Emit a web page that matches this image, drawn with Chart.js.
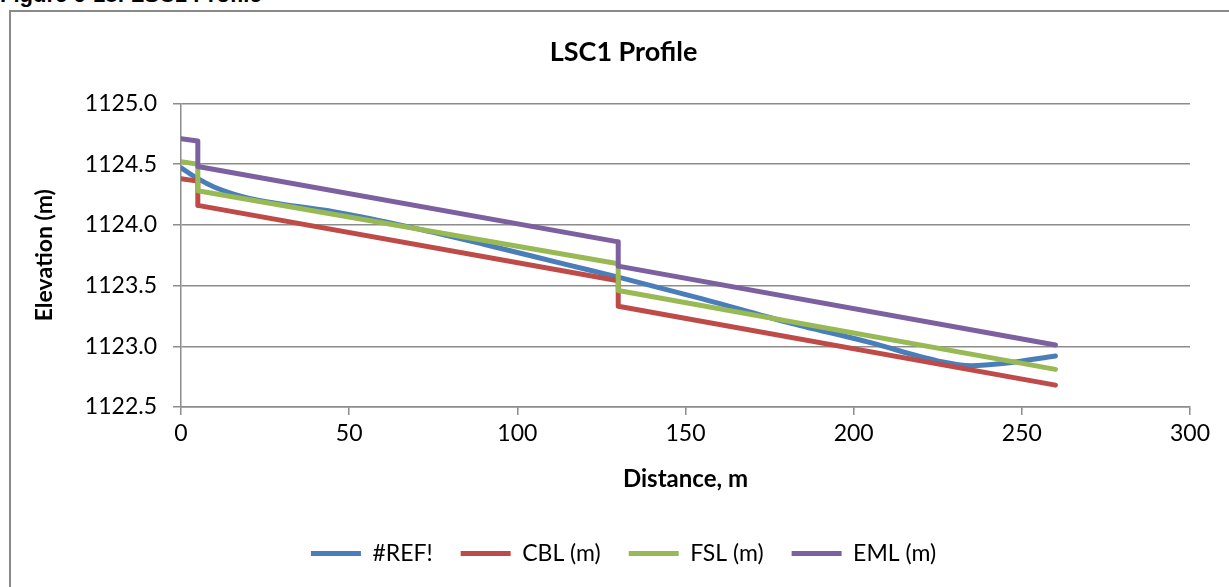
<!DOCTYPE html>
<html>
<head>
<meta charset="utf-8">
<script src="https://cdn.jsdelivr.net/npm/chart.js@4"></script>
<style>
  html, body { margin: 0; padding: 0; background: #fff; overflow: hidden; }
  #caption {
    position: absolute; left: 0; top: -16px;
    font: bold 22px "Liberation Sans", Arial, sans-serif; line-height: 22px;
    color: #000; white-space: nowrap;
  }
  #frame {
    position: absolute; left: 9px; top: 10px; width: 1260px; height: 620px;
    border: 2px solid #8a8a8a;
  }
  #wrap { position: absolute; left: 0; top: 0; width: 1229px; height: 587px; }
</style>
</head>
<body>
<div id="caption">Figure 6-18: LSC1 Profile</div>
<div id="frame"></div>
<div id="wrap"><canvas id="chart"></canvas></div>
<script>
// data
const refX = [0, 5, 10, 20, 30, 45, 65, 90, 115, 130, 155, 180, 205, 225, 235, 245, 260];
const refY = [1124.47, 1124.38, 1124.31, 1124.22, 1124.17, 1124.11, 1124.00, 1123.84, 1123.67, 1123.57, 1123.39, 1123.20, 1123.03, 1122.88, 1122.84, 1122.86, 1122.92];

const stepX = [0, 5, 5, 130, 130, 260];
const cblY = [1124.38, 1124.36, 1124.16, 1123.54, 1123.33, 1122.68];
const fslY = [1124.52, 1124.50, 1124.28, 1123.68, 1123.46, 1122.81];
const emlY = [1124.71, 1124.69, 1124.48, 1123.86, 1123.66, 1123.01];

const seriesNames = ['#REF!', 'CBL (m)', 'FSL (m)', 'EML (m)'];
const seriesColors = ['#4a7ebb', '#be4b48', '#98b954', '#7d60a0'];

const xTicks = [0, 50, 100, 150, 200, 250, 300];
const yMin = 1122.5, yMax = 1125.0, yStep = 0.5;

function pts(xs, ys) {
  return xs.map((x, i) => ({ x: x, y: ys[i] }));
}

const FONT = 'Lato, "Open Sans", sans-serif';
const GRID = '#8c8c8c';

const allY = [refY, cblY, fslY, emlY];
const allX = [refX, stepX, stepX, stepX];

const datasets = seriesNames.map((name, i) => ({
  label: name,
  data: pts(allX[i], allY[i]),
  borderColor: seriesColors[i],
  backgroundColor: seriesColors[i],
  borderWidth: 5,
  borderCapStyle: 'round',
  borderJoinStyle: 'round',
  pointRadius: 0,
  tension: i === 0 ? 0.4 : 0,
  cubicInterpolationMode: i === 0 ? 'monotone' : 'default',
  order: 4 - i   // later series drawn on top, as in the original
}));

new Chart(document.getElementById('chart'), {
  type: 'line',
  data: { datasets: datasets },
  options: {
    responsive: true,
    maintainAspectRatio: false,
    animation: false,
    layout: { padding: { left: 18, right: 0, top: 0, bottom: 12 } },
    plugins: {
      title: {
        display: true,
        text: 'LSC1 Profile',
        color: '#000',
        font: { family: FONT, size: 27, weight: 'bold' },
        padding: { top: 36, bottom: 35 }
      },
      legend: {
        position: 'bottom',
        labels: {
          usePointStyle: true,
          pointStyleWidth: 50,
          pointStyle: 'line',
          padding: 28,
          color: '#000',
          font: { family: FONT, size: 23 },
          sort: (a, b) => a.datasetIndex - b.datasetIndex
        }
      },
      tooltip: { enabled: false }
    },
    scales: {
      x: {
        type: 'linear',
        min: 0, max: 300,
        afterBuildTicks: s => { s.ticks = xTicks.map(v => ({ value: v })); },
        afterFit: s => { s.height = 107; s.paddingRight = 39; },
        grid: { drawOnChartArea: false, drawTicks: true, tickLength: 8, color: GRID, lineWidth: 1.5 },
        border: { display: true, color: GRID, width: 1.5 },
        ticks: { color: '#000', padding: 5, maxRotation: 0, font: { family: FONT, size: 23 } },
        title: {
          display: true,
          text: 'Distance, m',
          color: '#000',
          font: { family: FONT, size: 24, weight: 'bold' },
          padding: { top: 0, bottom: 20 }
        }
      },
      y: {
        min: yMin, max: yMax,
        ticks: {
          stepSize: yStep,
          color: '#000',
          padding: 16,
          font: { family: FONT, size: 23 },
          callback: v => v.toFixed(1)
        },
        afterFit: s => { s.width = 163; },
        grid: { color: GRID, lineWidth: 1.5, tickLength: 8 },
        border: { display: true, color: GRID, width: 1.5 },
        title: {
          display: true,
          text: 'Elevation (m)',
          color: '#000',
          font: { family: FONT, size: 23, weight: 'bold' },
          padding: { top: 13, bottom: 0 }
        }
      }
    }
  }
});
</script>
</body>
</html>
